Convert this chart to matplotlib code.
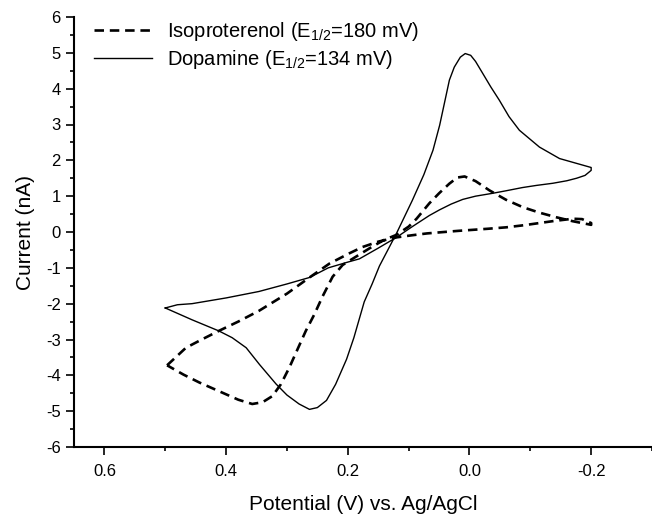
import numpy as np
import matplotlib
matplotlib.use("Agg")
import matplotlib.pyplot as plt
from matplotlib.ticker import MultipleLocator

# Cyclic voltammograms, potential in V vs. Ag/AgCl, current in nA
# Dopamine: first the flat branch 0.5 -> -0.2, then the return branch with both peaks
dopa_v = [0.500, 0.480, 0.456, 0.400, 0.346, 0.300, 0.263, 0.232, 0.200, 0.181,
          0.150, 0.120, 0.094, 0.066, 0.049, 0.030, 0.011, -0.010, -0.038, -0.060,
          -0.087, -0.110, -0.137, -0.160, -0.176, -0.190, -0.200,
          -0.200, -0.175, -0.148, -0.115, -0.082, -0.065, -0.049, -0.035, -0.022, -0.010,
          -0.002, 0.007, 0.015, 0.025, 0.033, 0.049, 0.060, 0.075, 0.094, 0.120, 0.148, 0.160,
          0.173, 0.190, 0.202, 0.220, 0.235, 0.250, 0.263, 0.280, 0.300, 0.318,
          0.345, 0.367, 0.390, 0.412, 0.456, 0.500]
dopa_i = [-2.12, -2.03, -2.00, -1.84, -1.66, -1.45, -1.27, -1.00, -0.84, -0.75,
          -0.45, -0.15, 0.15, 0.46, 0.62, 0.78, 0.91, 1.00, 1.08, 1.15,
          1.24, 1.30, 1.36, 1.43, 1.50, 1.58, 1.72,
          1.80, 1.92, 2.05, 2.37, 2.84, 3.22, 3.68, 4.05, 4.42, 4.76,
          4.93, 4.98, 4.88, 4.60, 4.24, 2.98, 2.28, 1.60, 0.88, -0.04, -0.95, -1.45,
          -1.95, -2.95, -3.55, -4.25, -4.70, -4.90, -4.95, -4.80, -4.55, -4.24,
          -3.70, -3.23, -2.95, -2.76, -2.45, -2.12]

# Isoproterenol, same order
iso_v = [0.497, 0.466, 0.440, 0.412, 0.380, 0.346, 0.300, 0.263, 0.230, 0.198,
         0.176, 0.150, 0.120, 0.094, 0.070, 0.049, 0.020, -0.005, -0.030, -0.060,
         -0.090, -0.115, -0.140, -0.170, -0.185, -0.200,
         -0.200, -0.170, -0.143, -0.115, -0.088, -0.060, -0.033, -0.010, 0.008, 0.020,
         0.033, 0.050, 0.066, 0.087, 0.100, 0.120, 0.140, 0.159, 0.180, 0.2085,
         0.225, 0.2415, 0.255, 0.269, 0.282, 0.296, 0.310, 0.324, 0.340, 0.357,
         0.380, 0.400, 0.420, 0.444, 0.470, 0.497]
iso_i = [-3.72, -3.23, -3.00, -2.76, -2.50, -2.20, -1.72, -1.27, -0.88, -0.60,
         -0.42, -0.27, -0.15, -0.09, -0.04, -0.01, 0.03, 0.06, 0.09, 0.13,
         0.19, 0.25, 0.31, 0.37, 0.36, 0.25,
         0.20, 0.30, 0.41, 0.54, 0.69, 0.90, 1.16, 1.42, 1.55, 1.52,
         1.35, 1.08, 0.80, 0.37, 0.15, -0.08, -0.22, -0.40, -0.62, -0.92,
         -1.25, -1.80, -2.30, -2.76, -3.25, -3.78, -4.25, -4.58, -4.75, -4.80,
         -4.68, -4.53, -4.38, -4.20, -3.98, -3.72]

labels = ["Isoproterenol (E$_{\\mathregular{1/2}}$=180 mV)",
          "Dopamine (E$_{\\mathregular{1/2}}$=134 mV)"]

plt.rcParams['font.family'] = ['Liberation Sans', 'DejaVu Sans']
plt.rcParams['mathtext.fontset'] = 'custom'
plt.rcParams['mathtext.rm'] = 'Liberation Sans'
plt.rcParams['mathtext.it'] = 'Liberation Sans:italic'
plt.rcParams['axes.unicode_minus'] = False

fig = plt.figure(figsize=(6.52, 5.14), dpi=100)
ax = fig.add_axes([74/652, 1-447/514, 1-74/652, (447-17)/514])

ax.plot(iso_v, iso_i, color='black', lw=1.9, dashes=(3.6, 2.2), label=labels[0])
ax.plot(dopa_v, dopa_i, color='black', lw=1.0, label=labels[1])

ax.set_xlim(0.65, -0.3)
ax.set_ylim(-6, 6)
ax.xaxis.set_major_locator(MultipleLocator(0.2))
ax.xaxis.set_minor_locator(MultipleLocator(0.1))
ax.yaxis.set_major_locator(MultipleLocator(1))
ax.yaxis.set_minor_locator(MultipleLocator(0.5))
ax.xaxis.set_major_formatter(matplotlib.ticker.FormatStrFormatter('%.1f'))

for s in ['top', 'right']:
    ax.spines[s].set_visible(False)
for s in ['left', 'bottom']:
    ax.spines[s].set_linewidth(1.5)
ax.tick_params(which='major', direction='out', length=6, width=1.2, labelsize=12)
ax.tick_params(which='minor', direction='out', length=3, width=1.2)
ax.tick_params(axis='x', pad=6)

ax.set_xlabel('Potential (V) vs. Ag/AgCl', fontsize=15, labelpad=12)
ax.set_ylabel('Current (nA)', fontsize=15, labelpad=8)

ax.legend(loc='upper left', bbox_to_anchor=(0.02, 1.012), frameon=False,
          fontsize=14.5, handlelength=2.9, handletextpad=0.75, labelspacing=0.25,
          borderaxespad=0)

fig.savefig('out.png', dpi=100)
